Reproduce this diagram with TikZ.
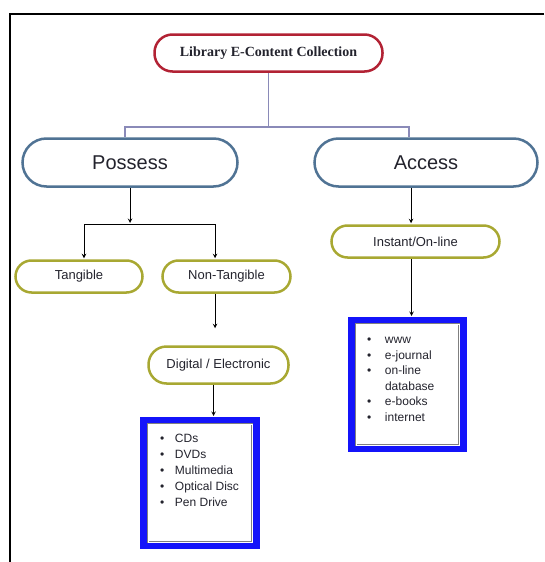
\documentclass[tikz,border=0pt]{standalone}
\usepackage{fontspec}
\setmainfont{Liberation Sans}
\newfontfamily\titlefont{Liberation Serif}
\usepackage{tikz}
\definecolor{rootred}{RGB}{178,34,52}
\definecolor{steel}{RGB}{80,115,148}
\definecolor{olive}{RGB}{168,168,50}
\definecolor{boxblue}{RGB}{20,20,250}
\definecolor{lavender}{RGB}{138,138,184}
\definecolor{ink}{RGB}{35,35,45}
\tikzstyle{rootpill}=[draw=rootred, line width=2.5pt, rounded corners=18pt, minimum width=228pt, minimum height=37pt, text=ink, font=\titlefont\bfseries\fontsize{14}{16}\selectfont]
\tikzstyle{bigpill}=[draw=steel, line width=2.5pt, rounded corners=24pt, minimum height=48pt, text=ink, font=\fontsize{20}{24}\selectfont]
\tikzstyle{pill}=[draw=olive, line width=2.5pt, rounded corners=16pt, minimum height=32pt, text=ink, font=\fontsize{13}{15}\selectfont]
\tikzstyle{listbox}=[draw=boxblue, line width=8pt, inner sep=0pt, fill=white, text=ink]
\tikzstyle{frameline}=[draw=gray, line width=0.6pt, double=white, double distance=0.8pt]
\tikzstyle{arr}=[->, shorten >=1pt, >=stealth, line width=1pt]
\tikzstyle{plain}=[line width=1pt]
\tikzstyle{link}=[draw=lavender, line width=1.5pt]
\newcommand{\itm}[1][15pt]{\makebox[#1][l]{\textbullet}}

\begin{document}
\begin{tikzpicture}[x=1pt, y=-1pt]
            \useasboundingbox (0,0) rectangle (544,562);
            \draw[line width=2.5pt] (544,14) -- (10,14) -- (10,562);

            \node[rootpill] (R) at (268.5, 53) {Library E-Content Collection};
            \node[bigpill, minimum width=215pt] (P) at (130, 162.5) {Possess};
            \node[bigpill, minimum width=223pt] (A) at (426, 162.5) {Access};
            \node[pill, minimum width=127pt] (T) at (79, 276.5) {Tangible};
            \node[pill, minimum width=128pt] (N) at (226.5, 276.5) {Non-Tangible};
            \node[pill, minimum width=168pt] (I) at (415.5, 241.5) {Instant/On-line};
            \node[pill, minimum width=140pt, minimum height=37pt, rounded corners=18pt] (D) at (218.5, 365) {Digital / Electronic};

            \node[listbox] (M) at (200, 483) {\parbox[t][124pt][t]{112pt}{\fontsize{12}{16}\selectfont
                \leftskip=16pt\rule{0pt}{21pt}\itm CDs\\\itm DVDs\\\itm Multimedia\\\itm Optical Disc\\\itm Pen Drive}};
            \node[listbox] (W) at (407.5, 384.5) {\parbox[t][127pt][t]{111pt}{\fontsize{12}{15.6}\selectfont
                \leftskip=15pt\rule{0pt}{22.5pt}\itm[18pt]www\\\itm[18pt]e-journal\\\itm[18pt]on-line\\\hspace*{18pt}database\\\itm[18pt]e-books\\\itm[18pt]internet}};
            \draw[frameline] ([shift={(8pt,-7pt)}]M.north west) rectangle ([shift={(-8pt,7pt)}]M.south east);
            \draw[frameline] ([shift={(8pt,-7pt)}]W.north west) rectangle ([shift={(-8pt,7pt)}]W.south east);

            % top level
            \coordinate (s1) at (268.5, 127);
            \draw[link] (R.south) -- (s1);
            \draw[link] (s1) -| ([xshift=-5pt]P.north);
            \draw[link] (s1) -| ([xshift=-17pt]A.north);

            % possess side
            \coordinate (s2) at (130, 224);
            \coordinate (t1) at (84, 224);
            \coordinate (t2) at (215, 224);
            \draw[arr] (P.south) -- (s2);
            \draw[plain] (t1) -- (t2);
            \draw[arr] (t1) -- (t1 |- T.north);
            \draw[arr] (t2) -- (t2 |- N.north);
            \draw[arr] ([xshift=-11.5pt]N.south) -- ([xshift=-3.5pt, yshift=16pt]D.north);
            \draw[arr] ([xshift=-5pt]D.south) -- ([xshift=-5pt]D.south |- M.north);

            % access side
            \draw[arr] ([xshift=-15pt]A.south) -- ([xshift=-15pt]A.south |- I.north);
            \draw[arr] ([xshift=-4pt]I.south) -- ([xshift=-4pt]I.south |- W.north);
        \end{tikzpicture}
\end{document}
